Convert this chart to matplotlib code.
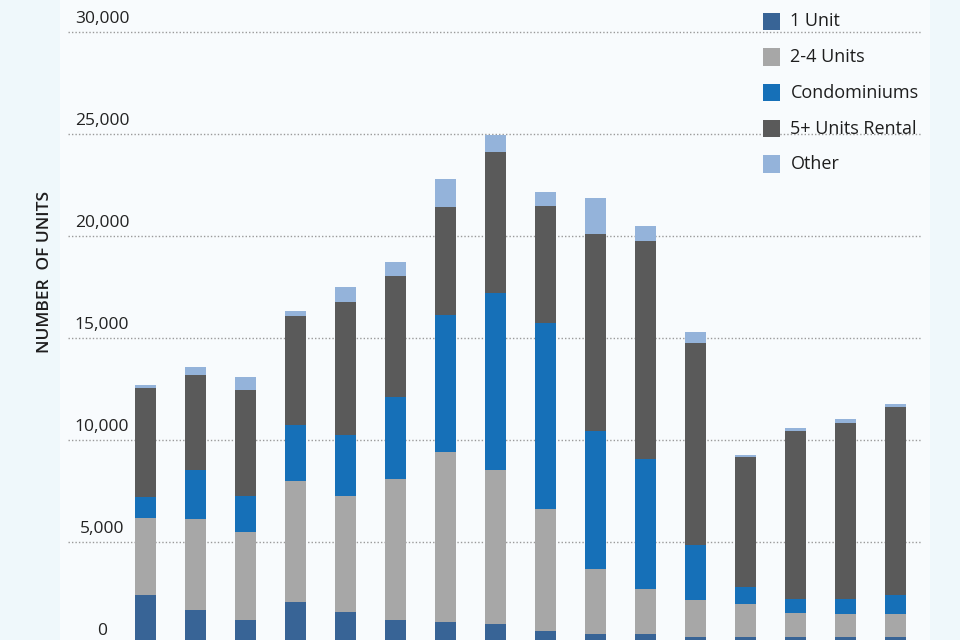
import numpy as np
import matplotlib
matplotlib.use("Agg")
import matplotlib.pyplot as plt
from matplotlib.patches import Rectangle
from matplotlib.transforms import blended_transform_factory

# stacked segments, one value per bar (left to right)
one_unit = [2390, 1685, 1190, 2060, 1570, 1190, 1080, 980, 655, 490, 490, 325, 325, 325, 325, 325]
two_four = [3775, 4430, 4285, 5950, 5690, 6920, 8320, 7570, 5950, 3205, 2220, 1850, 1635, 1195, 1145, 1145]
condos = [1060, 2435, 1785, 2715, 2975, 4005, 6720, 8680, 9125, 6770, 6345, 2695, 850, 700, 750, 920]
five_plus = [5315, 4660, 5180, 5360, 6555, 5915, 5330, 6900, 5750, 9625, 10695, 9910, 6380, 8245, 8605, 9250]
other = [160, 360, 640, 245, 735, 690, 1355, 850, 690, 1770, 750, 520, 95, 130, 195, 130]

series_names = ["1 Unit", "2-4 Units", "Condominiums", "5+ Units Rental", "Other"]
series_colors = ["#386496", "#a7a7a7", "#1670b8", "#5a5a5a", "#94b3da"]

y_ticks = [0, 5000, 10000, 15000, 20000, 25000, 30000]
y_tick_labels = ["0", "5,000", "10,000", "15,000", "20,000", "25,000", "30,000"]

W, H = 960, 640
fig = plt.figure(figsize=(9.6, 6.4), dpi=100)
fig.patch.set_facecolor("#eff8fb")
fig.add_artist(Rectangle((60 / W, 0), 870 / W, 1, transform=fig.transFigure,
                         facecolor="#f8fbfd", edgecolor="none", zorder=0))

ax = fig.add_axes([0, 0, 1, 1])
ax.set_facecolor("none")
for s in ax.spines.values():
    s.set_visible(False)
ax.set_xticks([])
ax.set_yticks([])

# pixel-aligned scales: bar i centred at 145.3 + 50*i px,
# value 0 sits 4 px below the bottom edge, 30000 at 32 px from the top
px_per_unit = 20.39 / 1000
ax.set_xlim(-145.3 / 50, (W - 145.3) / 50)
ax.set_ylim(4 / px_per_unit, 644 / px_per_unit)

x = np.arange(len(one_unit))
bottom = np.zeros(len(one_unit))
for vals, name, col in zip([one_unit, two_four, condos, five_plus, other], series_names, series_colors):
    ax.bar(x, vals, width=0.42, bottom=bottom, color=col, edgecolor="none", zorder=3, label=name)
    bottom += np.array(vals)

blend = blended_transform_factory(ax.transAxes, ax.transData)
for v, lab in zip(y_ticks, y_tick_labels):
    ax.plot([68 / W, 922 / W], [v, v], transform=blend, color="#9a9a9a",
            lw=1, linestyle=(0, (1, 1.5)), zorder=1, clip_on=False)
    ax.annotate(lab, xy=(102 / W, v), xycoords=blend, xytext=(0, 9.4),
                textcoords="offset points", ha="center", va="center",
                fontsize=12.5, color="#222222", family="Open Sans", annotation_clip=False)

fig.text(45 / W, 1 - 271.5 / H, "NUMBER  OF UNITS", rotation=90, ha="center", va="center",
         fontsize=12.5, fontweight="semibold", color="#1e1e1e", family="Open Sans")

# legend
leg_y = [21.3, 57.0, 92.8, 128.5, 164.0]
for yc, name, col in zip(leg_y, series_names, series_colors):
    fig.add_artist(Rectangle((763 / W, 1 - (yc + 8.5) / H), 17 / W, 17 / H,
                             transform=fig.transFigure, facecolor=col, edgecolor="none"))
    fig.text(790.5 / W, 1 - yc / H, name, ha="left", va="center",
             fontsize=13, color="#1e1e1e", family="Open Sans")

fig.savefig("out.png", dpi=100, facecolor=fig.get_facecolor())
